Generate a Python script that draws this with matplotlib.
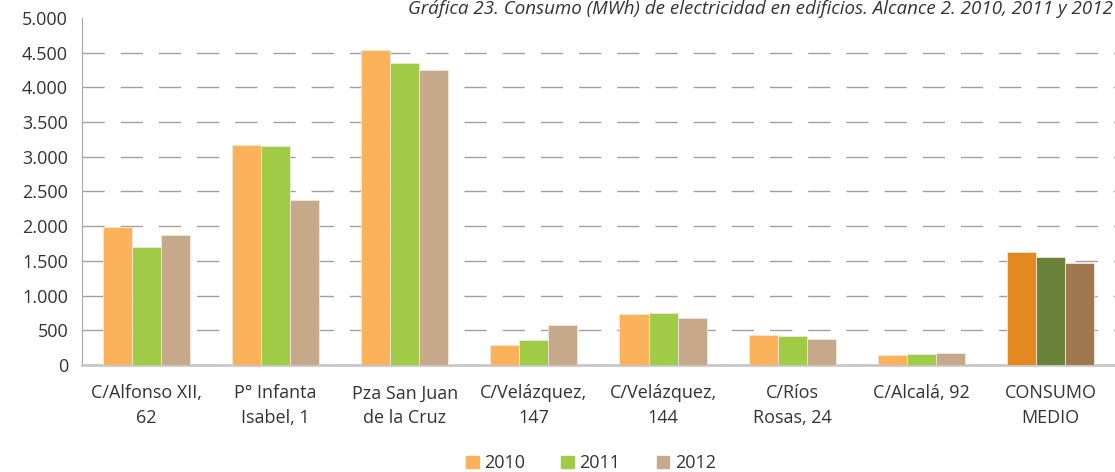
import matplotlib.pyplot as plt
import numpy as np

plt.rcParams['font.family'] = ['Open Sans', 'DejaVu Sans']

categories = ["C/Alfonso XII,\n62", "P° Infanta\nIsabel, 1", "Pza San Juan\nde la Cruz",
              "C/Velázquez,\n147", "C/Velázquez,\n144", "C/Ríos\nRosas, 24",
              "C/Alcalá, 92", "CONSUMO\nMEDIO"]
years = ["2010", "2011", "2012"]
v2010 = [1990, 3170, 4540, 290, 740, 430, 145, 1630]
v2011 = [1700, 3150, 4350, 360, 745, 420, 155, 1555]
v2012 = [1880, 2380, 4250, 580, 680, 370, 168, 1470]

colors = ["#FBB25A", "#9FCB47", "#C6A98B"]
avg_colors = ["#E3891F", "#6A813A", "#A07850"]

fig = plt.figure(figsize=(11.15, 4.72), dpi=100)
ax = fig.add_axes([0.0735, 0.2267, 0.9265, 0.7352])

x = np.arange(len(categories))
w = 0.225
for i, vals in enumerate([v2010, v2011, v2012]):
    cols = [colors[i]] * (len(vals) - 1) + [avg_colors[i]]
    ax.bar(x + (i - 1) * w, vals, w, color=cols, edgecolor="#F3E6D8",
           linewidth=0.6, label=years[i], zorder=3)

ax.set_xlim(-0.5, len(categories) - 0.5)
ax.set_ylim(0, 5000)
ax.set_yticks(range(0, 5001, 500))
ax.set_yticklabels([f"{v:,}".replace(",", ".") for v in range(0, 5001, 500)])
ax.set_xticks(x)
ax.set_xticklabels(categories, linespacing=1.45)
ax.tick_params(axis="y", length=0, labelsize=13, labelcolor="#333333", pad=10)
ax.tick_params(axis="x", length=0, labelsize=13, labelcolor="#333333", pad=14)

ax.yaxis.grid(True, color="#A0A0A0", linewidth=1.0, linestyle=(0, (16, 11.5)), zorder=0)
ax.get_ygridlines()[-1].set_visible(False)
for s in ["top", "right"]:
    ax.spines[s].set_visible(False)
ax.spines["left"].set_color("#A6A6A6")
ax.spines["left"].set_linewidth(0.8)
ax.spines["bottom"].set_color("#C8C8C8")
ax.spines["bottom"].set_linewidth(2)

fig.text(0.998, 0.999, "Gráfica 23. Consumo (MWh) de electricidad en edificios. Alcance 2. 2010, 2011 y 2012",
         fontsize=13.5, style="italic", color="#333333", ha="right", va="top")

handles = [plt.Rectangle((0, 0), 1, 1, color=c) for c in colors]
fig.legend(handles, years, loc="lower center", bbox_to_anchor=(0.53, -0.035), ncol=3,
           frameon=False, fontsize=13, handlelength=0.7, handleheight=0.7,
           handletextpad=0.3, columnspacing=2.0, labelcolor="#333333")

fig.savefig("out.png", dpi=100)
